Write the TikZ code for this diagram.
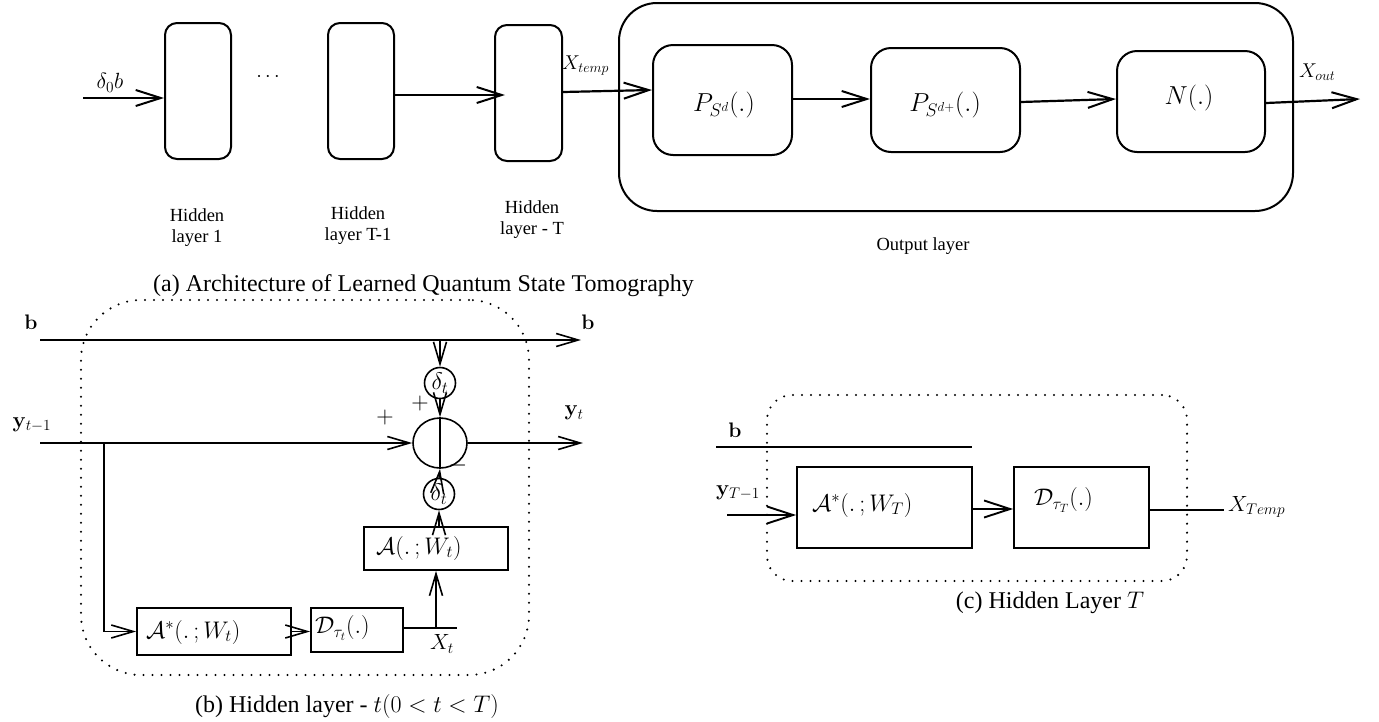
\RequirePackage{fix-cm}
\documentclass[tikz,border=0pt]{standalone}
\usepackage[no-math]{fontspec}
\setmainfont{Liberation Serif}
\usetikzlibrary{arrows.meta,shapes.geometric,calc}
\newcommand\myfs[2]{\fontsize{#1}{#2}\selectfont}
\tikzset{
  hbox/.style={draw, line width=2pt, rounded corners=12pt, minimum width=66pt, minimum height=136pt, inner sep=0pt},
  obox/.style={draw, line width=2pt, rounded corners=20pt, inner sep=0pt},
  sbox/.style={draw, line width=1.8pt, inner sep=0pt},
  dotbox/.style={draw, line width=2.3pt, dash pattern=on 0pt off 9pt, line cap=round, inner sep=0pt},
  arrA/.style={line width=2.2pt, -{Straight Barb[length=25pt,width=16pt,line width=2pt]}},
  arrB/.style={line width=1.6pt, -{Straight Barb[length=22pt,width=13pt,line width=1.6pt]}},
  arrC/.style={line width=2pt, -{Straight Barb[length=26pt,width=17pt,line width=1.9pt]}},
  lineB/.style={line width=1.6pt},
  lineC/.style={line width=2pt},
  hl/.style={align=center, font=\myfs{18.5}{21}},
  captxt/.style={anchor=base, font=\myfs{24}{29}},
  ml/.style={font=\myfs{24}{29}},
  lw/.style={anchor=west, inner sep=0pt, font=\myfs{24}{29}},
}
\begin{document}
\begin{tikzpicture}[x=1pt,y=-1pt]
\useasboundingbox (0,0) rectangle (1379,721);

% ---------------- (a) ----------------
\node[hbox] (h1) at (198,91) {};
\node[hbox] (hT1) at (361,91) {};
\node[hbox, minimum width=67pt] (hT) at (528.5,93) {};
\node[draw, line width=2pt, rounded corners=38pt, minimum width=674pt, minimum height=208pt, inner sep=0pt] (outer) at (956,107) {};
\node[obox, minimum width=139pt, minimum height=110pt] (ps) at (722.5,100) {};
\node[obox, minimum width=149pt, minimum height=104pt] (psp) at (945.5,100) {};
\node[obox, minimum width=148pt, minimum height=101pt] (nb) at (1191,101.5) {};

\node[anchor=base, inner sep=0pt, font=\myfs{26}{31}] (psl) at (724,111) {$P_{S^d}(.)$};
\node[anchor=base, inner sep=0pt, font=\myfs{26}{31}] (pspl) at (945,111) {$P_{S^{d+}}(.)$};
\node[anchor=base, inner sep=0pt, font=\myfs{26}{31}] (nbl) at (1189,104) {$N(.)$};

\node[font=\myfs{22}{26}] (ld0) at (110,83) {$\delta_0 b$};
\coordinate (in0) at (83,98);
\draw[arrA] (in0) -- (in0 -| h1.west);
\node[font=\myfs{20}{24}] (dots) at (268,77) {$\cdots$};
\draw[arrA, shorten >=-11pt] ([yshift=-4pt]hT1.east) -- ([yshift=-2pt]hT.west);
\node[anchor=base west, inner sep=0pt, font=\myfs{20}{24}] (lxt) at (562,69) {$X_{temp}$};
\draw[arrA] ([yshift=1pt]hT.east) -- ([yshift=10pt]ps.west);
\draw[arrA] ([yshift=1pt]ps.east) -- ([yshift=1pt]psp.west);
\draw[arrA] ([yshift=-2pt]psp.east) -- ([yshift=2.5pt]nb.west);
\coordinate (xo) at (1360,99);
\draw[arrA] ([yshift=-1.5pt]nb.east) -- (xo);
\node[anchor=base west, inner sep=0pt, font=\myfs{20}{24}] (lxo) at (1299,77) {$X_{out}$};

\node[hl] (l1) at (197,228) {Hidden\\layer 1};
\node[hl] (l2) at (358,226) {Hidden\\layer T-1};
\node[hl] (l3) at (532,220) {Hidden\\layer - T};
\node[font=\myfs{18.5}{21}] (lol) at (923,246) {Output layer};

\node[captxt] (capa) at (423.5,291) {(a) Architecture of Learned Quantum State Tomography};

% ---------------- (b) ----------------
\node[dotbox, minimum width=448pt, minimum height=375pt, rounded corners=60pt] (bbox) at (305,487.5) {};
\coordinate (b0) at (40,340);
\coordinate (b1) at (581,340);
\draw[arrB] (b0) -- (b1);
\node[font=\myfs{21}{25}] (lb1) at (31,322) {$\mathbf{b}$};
\node[font=\myfs{21}{25}] (lb2) at (588,322) {$\mathbf{b}$};
\node[font=\myfs{22}{26}] (ly1) at (32,425) {$\mathbf{y}_{t-1}$};
\node[font=\myfs{22}{26}] (ly2) at (574,413) {$\mathbf{y}_{t}$};

\node[ellipse, draw, line width=1.6pt, minimum width=54pt, minimum height=50pt, inner sep=0pt] (sum) at (440,443) {};
\node[circle, draw, line width=1.6pt, minimum size=31pt, inner sep=0pt, font=\myfs{24}{29}] (dt1) at (440,383) {$\delta_t$};
\node[circle, draw, line width=1.6pt, minimum size=31pt, inner sep=0pt, font=\myfs{24}{29}] (dt2) at (439,494) {$\delta_t$};
\coordinate (bj) at (440,340);
\draw[arrB] (bj) -- (dt1.north);
\draw[arrB] (dt1.south) -- (sum.north);
\draw[lineB] (sum.north) -- (sum.south);
\draw[arrB] (dt2.north) -- (sum.south);
\coordinate (y0) at (40,443);
\coordinate (y1) at (583,443);
\draw[arrB] (y0) -- (sum.west);
\draw[arrB] (sum.east) -- (y1);
\node[ml] (p1) at (420,403) {$+$};
\node[ml] (p2) at (385,417) {$+$};
\node[ml] (m1) at (458,465) {$-$};

\node[sbox, minimum width=144pt, minimum height=43pt] (Ab) at (436,548.5) {};
\node[lw] (Abl) at (376,548) {$\mathcal{A}(.\,;W_t)$};
\draw[arrB] (Ab.north -| dt2) -- (dt2.south);

\node[sbox, minimum width=154pt, minimum height=47pt] (Asb) at (214,631.5) {};
\node[lw] (Asbl) at (146,632) {$\mathcal{A}^*(.\,;W_t)$};
\node[sbox, minimum width=92pt, minimum height=44pt] (Db) at (357,630) {};
\node[lw] (Dbl) at (315,628) {$\mathcal{D}_{\tau_t}(.)$};
\coordinate (br) at (104,443);
\draw[arrB] (br) |- (Asb.west);
\draw[arrB] (Asb.east) -- (Asb.east -| Db.west);
\coordinate (xt) at (457,628);
\draw[lineB] ([yshift=2pt]Db.east) -- (xt);
\draw[arrB] (Ab.south |- xt) -- (Ab.south);
\node[font=\myfs{22}{26}] (lxtb) at (442,644) {$X_t$};

\node[captxt] (capb) at (347,712) {(b) Hidden layer - $t(0<t<T)$};

% ---------------- (c) ----------------
\node[dotbox, minimum width=420pt, minimum height=186pt, rounded corners=25pt] (cbox) at (977,488) {};
\node[font=\myfs{21}{25}] (lbc) at (735,430) {$\mathbf{b}$};
\coordinate (bc0) at (716,447);
\coordinate (bc1) at (972,447);
\draw[lineC] (bc0) -- (bc1);
\node[font=\myfs{22}{26}] (lyc) at (738,493) {$\mathbf{y}_{T-1}$};
\node[sbox, minimum width=175pt, minimum height=81pt] (Ac) at (884.5,507.5) {};
\node[lw] (Acl) at (812,505) {$\mathcal{A}^*(.\,;W_T)$};
\node[sbox, minimum width=135pt, minimum height=81pt] (Dc) at (1081.5,507.5) {};
\node[lw] (Dcl) at (1034,500) {$\mathcal{D}_{\tau_T}(.)$};
\coordinate (yc0) at (727,515);
\draw[arrC] (yc0) -- (yc0 -| Ac.west);
\draw[arrC] ([yshift=-1.5pt]Ac.east) -- ([yshift=-1.5pt]Dc.west);
\coordinate (xc) at (1224,510);
\draw[lineC] ([yshift=-2.5pt]Dc.east) -- (xc);
\node[anchor=west, inner sep=0pt, font=\myfs{22}{26}] (Xc) at (1228,507) {$X_{Temp}$};

\node[captxt] (capc) at (1050,608) {(c) Hidden Layer $T$};
\end{tikzpicture}
\end{document}
